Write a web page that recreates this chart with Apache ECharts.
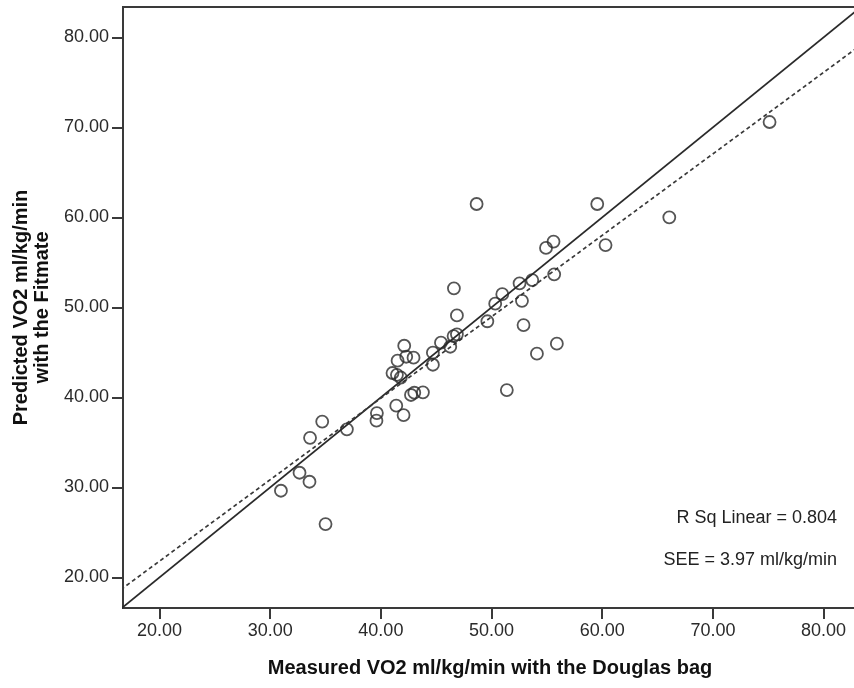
<!DOCTYPE html>
<html>
<head>
<meta charset="utf-8">
<script src="https://cdn.jsdelivr.net/npm/echarts@6/dist/echarts.min.js"></script>
<style>
html,body{margin:0;padding:0;background:#fff;}
#chart{width:854px;height:688px;}
</style>
</head>
<body>
<div id="chart"></div>
<script>
// Measured VO2 (Douglas bag), ml/kg/min
var measured = [30.97, 32.65, 33.55, 33.60, 34.70, 35.00, 36.93, 39.60, 39.64, 41.05,
  41.45, 41.80, 41.39, 42.05, 42.72, 43.02, 43.80, 42.11, 41.51, 42.29,
  42.95, 44.70, 44.70, 45.43, 46.27, 46.57, 46.87, 46.87, 46.60, 48.65,
  49.62, 50.33, 50.97, 51.38, 52.53, 52.75, 52.89, 53.68, 54.10, 54.92,
  55.60, 55.66, 55.90, 59.55, 60.30, 66.06, 75.12];
// Predicted VO2 (Fitmate), ml/kg/min
var predicted = [29.62, 31.62, 30.62, 35.50, 37.30, 25.92, 36.44, 37.40, 38.25, 42.70,
  42.50, 42.20, 39.07, 38.03, 40.26, 40.51, 40.56, 45.73, 44.07, 44.51,
  44.40, 43.62, 44.96, 46.07, 45.62, 46.80, 47.00, 49.10, 52.11, 61.48,
  48.45, 50.40, 51.46, 40.81, 52.67, 50.72, 48.03, 53.03, 44.85, 56.60,
  57.30, 53.67, 45.96, 61.48, 56.92, 60.00, 70.59];
// Line of identity (solid) and linear fit (dashed), end points
var identityLine = [[16.5, 16.5], [84, 84]];
var fitLine = [[16.5, 18.63], [84, 79.72]];
var xTicks = [20, 30, 40, 50, 60, 70, 80];
var yTicks = [20, 30, 40, 50, 60, 70, 80];
var xTitle = 'Measured VO2 ml/kg/min with the Douglas bag';
var yTitle = 'Predicted VO2 ml/kg/min\nwith the Fitmate';
var notes = ['R Sq Linear = 0.804', 'SEE = 3.97 ml/kg/min'];

var pts = measured.map(function (x, i) { return [x, predicted[i]]; });
var FONT = '"Liberation Sans", Arial, sans-serif';
var AX = '#3a3a3a';

var chart = echarts.init(document.getElementById('chart'), null, {renderer: 'canvas'});
chart.setOption({
  animation: false,
  backgroundColor: '#ffffff',
  grid: {
    left: 123, top: 7, width: 734, bottom: 80,
    outerBoundsMode: 'none', containLabel: false,
    show: true, borderColor: AX, borderWidth: 2, backgroundColor: 'transparent'
  },
  xAxis: {
    type: 'value', min: 16.7, max: 83.02,
    name: xTitle, nameLocation: 'middle', nameGap: 50,
    nameTextStyle: {fontFamily: FONT, fontSize: 20, fontWeight: 'bold', color: '#111'},
    axisLine: {show: true, onZero: false, lineStyle: {color: AX, width: 2}},
    axisTick: {show: true, length: 11, customValues: xTicks, lineStyle: {color: AX, width: 2}},
    axisLabel: {customValues: xTicks, margin: 14, fontFamily: FONT, fontSize: 18, color: '#2a2a2a',
      formatter: function (v) { return v.toFixed(2); }},
    splitLine: {show: false}
  },
  yAxis: {
    type: 'value', min: 16.59, max: 83.37,
    name: yTitle, nameLocation: 'middle', nameGap: 70, nameRotate: 90,
    nameTextStyle: {fontFamily: FONT, fontSize: 20, fontWeight: 'bold', color: '#111', lineHeight: 21, align: 'center'},
    axisLine: {show: true, onZero: false, lineStyle: {color: AX, width: 2}},
    axisTick: {show: true, length: 11, customValues: yTicks, lineStyle: {color: AX, width: 2}},
    axisLabel: {customValues: yTicks, margin: 14, fontFamily: FONT, fontSize: 18, color: '#2a2a2a',
      formatter: function (v) { return v.toFixed(2); }},
    splitLine: {show: false}
  },
  series: [
    {
      type: 'line', data: identityLine, symbol: 'none', clip: true, silent: true,
      lineStyle: {color: '#2a2a2a', width: 1.8, type: 'solid'}, z: 2
    },
    {
      type: 'line', data: fitLine, symbol: 'none', clip: true, silent: true,
      lineStyle: {color: '#3a3a3a', width: 1.7, type: [4, 3]}, z: 2
    },
    {
      type: 'scatter', data: pts, symbol: 'circle', symbolSize: 12,
      itemStyle: {color: 'rgba(255,255,255,0)', borderColor: '#2a2a2a', borderWidth: 1.8}, z: 3
    }
  ],
  graphic: [
    {type: 'text', x: 837, y: 518, z: 10,
      style: {text: notes[0], fill: '#222', font: '18px ' + FONT, textAlign: 'right', textVerticalAlign: 'middle'}},
    {type: 'text', x: 837, y: 560, z: 10,
      style: {text: notes[1], fill: '#222', font: '18px ' + FONT, textAlign: 'right', textVerticalAlign: 'middle'}}
  ]
});
</script>
</body>
</html>
